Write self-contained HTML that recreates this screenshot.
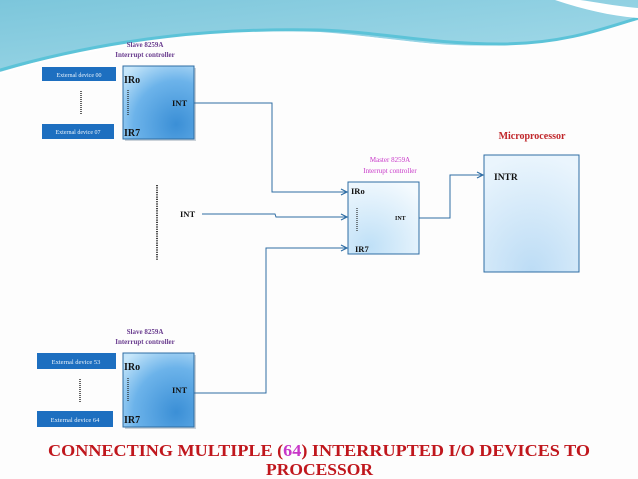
<!DOCTYPE html>
<html><head><meta charset="utf-8"><style>
html,body{margin:0;padding:0;background:#fff}
svg{display:block}
text{font-family:"Liberation Serif",serif}
</style></head><body>
<svg width="638" height="479" viewBox="0 0 638 479" xmlns="http://www.w3.org/2000/svg">
<defs>
<linearGradient id="hdr" x1="0" y1="0" x2="1" y2="1">
<stop offset="0" stop-color="#7cc6db"/><stop offset="1" stop-color="#a7dcea"/></linearGradient>
<radialGradient id="bx" cx="0.75" cy="0.8" r="1">
<stop offset="0" stop-color="#3b8fd6"/><stop offset="0.6" stop-color="#6cb3ea"/><stop offset="1" stop-color="#c6e6fa"/></radialGradient>
<radialGradient id="mb" cx="0.3" cy="0.9" r="1">
<stop offset="0" stop-color="#bfe0f7"/><stop offset="1" stop-color="#f4fafe"/></radialGradient>
<radialGradient id="mp" cx="0.5" cy="1" r="1">
<stop offset="0" stop-color="#bcdcf5"/><stop offset="1" stop-color="#eaf5fd"/></radialGradient>
<marker id="ar" markerWidth="8" markerHeight="8" refX="7" refY="4" orient="auto" markerUnits="userSpaceOnUse">
<path d="M1,1 L7,4 L1,7" fill="none" stroke="#2e6da4" stroke-width="1.2"/></marker>
</defs>
<rect width="638" height="479" fill="#fdfdfd"/>
<path d="M0,0 H638 V20 C600,30 560,42 500,45 C430,48 380,36 320,32 C220,28 120,36 0,72 Z" fill="url(#hdr)"/>
<path d="M0,70 C120,36 220,28 320,30 C380,32 430,44 500,44 C560,44 600,30 638,18" fill="none" stroke="#5cc3d8" stroke-width="3"/>
<path d="M0,73 C120,38 220,32 320,34 C380,36 430,48 500,48" fill="none" stroke="#ffffff" stroke-width="1.5"/>
<path d="M555,0 C585,10 612,16 638,18 V8 C615,6 595,2 580,0 Z" fill="#ffffff"/>

<text x="145" y="47" font-size="7" font-weight="bold" fill="#6a3d8f" text-anchor="middle">Slave 8259A</text>
<text x="145" y="57" font-size="7" font-weight="bold" fill="#6a3d8f" text-anchor="middle">Interrupt controller</text>
<rect x="42" y="67" width="74" height="14" fill="#1d6fc0"/>
<text x="79" y="77" font-size="6" fill="#e8f2fb" text-anchor="middle">External device 00</text>
<rect x="42" y="124" width="72" height="15" fill="#1d6fc0"/>
<text x="78" y="134" font-size="6" fill="#e8f2fb" text-anchor="middle">External device 07</text>
<line x1="81" y1="91" x2="81" y2="115" stroke="#222" stroke-width="1.4" stroke-dasharray="1,1"/>
<rect x="125" y="68" width="71" height="73" fill="#9aa8b5" opacity="0.5"/>
<rect x="123" y="66" width="71" height="73" fill="url(#bx)" stroke="#2e6da4" stroke-width="1"/>
<text x="124" y="83" font-size="10" font-weight="bold" fill="#111">IRo</text>
<text x="124" y="136" font-size="10" font-weight="bold" fill="#111">IR7</text>
<text x="172" y="106" font-size="8.5" font-weight="bold" fill="#111">INT</text>
<line x1="128" y1="90" x2="128" y2="116" stroke="#222" stroke-width="1.2" stroke-dasharray="1,1"/>

<text x="145" y="334" font-size="7" font-weight="bold" fill="#6a3d8f" text-anchor="middle">Slave 8259A</text>
<text x="145" y="344" font-size="7" font-weight="bold" fill="#6a3d8f" text-anchor="middle">Interrupt controller</text>
<rect x="37" y="353" width="79" height="16" fill="#1d6fc0"/>
<text x="76" y="364" font-size="6.5" fill="#e8f2fb" text-anchor="middle">External device  53</text>
<rect x="37" y="411" width="76" height="16" fill="#1d6fc0"/>
<text x="75" y="422" font-size="6.5" fill="#e8f2fb" text-anchor="middle">External device 64</text>
<line x1="80" y1="379" x2="80" y2="402" stroke="#222" stroke-width="1.4" stroke-dasharray="1,1"/>
<rect x="125" y="355" width="71" height="74" fill="#9aa8b5" opacity="0.5"/>
<rect x="123" y="353" width="71" height="74" fill="url(#bx)" stroke="#2e6da4" stroke-width="1"/>
<text x="124" y="370" font-size="10" font-weight="bold" fill="#111">IRo</text>
<text x="124" y="423" font-size="10" font-weight="bold" fill="#111">IR7</text>
<text x="172" y="393" font-size="8.5" font-weight="bold" fill="#111">INT</text>
<line x1="128" y1="378" x2="128" y2="402" stroke="#222" stroke-width="1.2" stroke-dasharray="1,1"/>

<line x1="157" y1="185" x2="157" y2="260" stroke="#222" stroke-width="1.7" stroke-dasharray="1.2,1.1"/>
<text x="180" y="217" font-size="8.5" font-weight="bold" fill="#111">INT</text>

<text x="390" y="162" font-size="7" fill="#c837c8" text-anchor="middle">Master 8259A</text>
<text x="390" y="173" font-size="7" fill="#c837c8" text-anchor="middle">Interrupt controller</text>
<rect x="348" y="182" width="71" height="72" fill="url(#mb)" stroke="#2e6da4" stroke-width="1"/>
<text x="351" y="194" font-size="8.5" font-weight="bold" fill="#111">IRo</text>
<text x="355" y="252" font-size="8.5" font-weight="bold" fill="#111">IR7</text>
<text x="395" y="220" font-size="6" font-weight="bold" fill="#111">INT</text>
<line x1="357" y1="208" x2="357" y2="232" stroke="#222" stroke-width="1.1" stroke-dasharray="1,1"/>

<text x="532" y="139" font-size="10" font-weight="bold" fill="#c0262a" text-anchor="middle">Microprocessor</text>
<rect x="484" y="155" width="95" height="117" fill="url(#mp)" stroke="#2e6da4" stroke-width="1"/>
<text x="494" y="180" font-size="9.5" font-weight="bold" fill="#111">INTR</text>

<g fill="none" stroke="#2e6da4" stroke-width="1">
<polyline points="194,103 272,103 272,192 347,192" marker-end="url(#ar)"/>
<polyline points="202,214 275,214 276,217 347,217" marker-end="url(#ar)"/>
<polyline points="194,393 266,393 266,248 347,248" marker-end="url(#ar)"/>
<polyline points="419,218 450,218 450,175 483,175" marker-end="url(#ar)"/>
</g>

<text x="48" y="456" font-size="17" font-weight="bold" fill="#c0171d" textLength="542" lengthAdjust="spacingAndGlyphs">CONNECTING  MULTIPLE  (<tspan fill="#c837c8">64</tspan>) INTERRUPTED I/O DEVICES  TO</text>
<text x="266" y="475" font-size="17" font-weight="bold" fill="#c0171d" textLength="107" lengthAdjust="spacingAndGlyphs">PROCESSOR</text>
</svg>
</body></html>
